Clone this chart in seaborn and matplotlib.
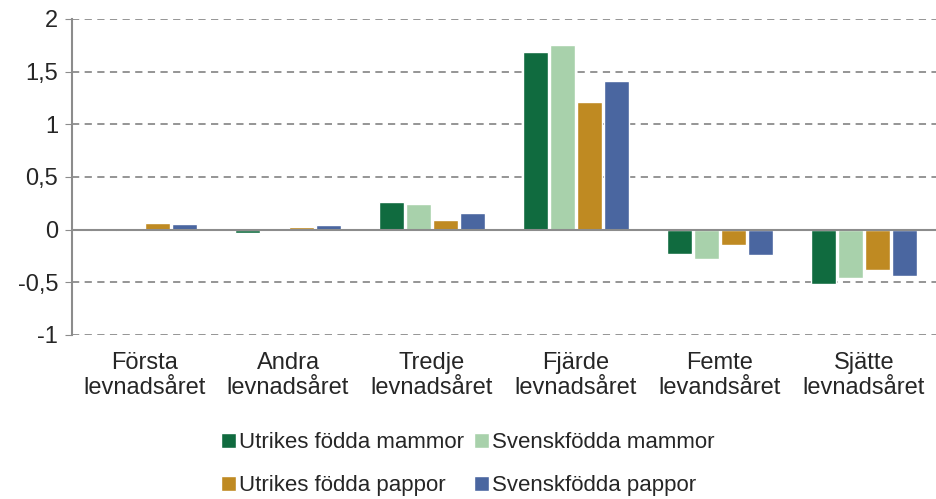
import pandas as pd
import seaborn as sns
import matplotlib.pyplot as plt
from matplotlib.ticker import FuncFormatter
from matplotlib.patches import Patch

# Data
categories = ['Första\nlevnadsåret', 'Andra\nlevnadsåret', 'Tredje\nlevnadsåret',
              'Fjärde\nlevnadsåret', 'Femte\nlevandsåret', 'Sjätte\nlevnadsåret']
series = ['Utrikes födda mammor', 'Svenskfödda mammor',
          'Utrikes födda pappor', 'Svenskfödda pappor']
utrikes_mammor = [-0.015, -0.03, 0.26, 1.69, -0.23, -0.52]
svensk_mammor = [-0.015, 0.005, 0.245, 1.75, -0.28, -0.46]
utrikes_pappor = [0.06, 0.02, 0.09, 1.21, -0.15, -0.38]
svensk_pappor = [0.05, 0.04, 0.16, 1.41, -0.245, -0.44]
colors = ['#106B3F', '#A8D1AB', '#BF8A22', '#4A66A0']

df = pd.DataFrame({
    'kategori': categories * 4,
    'grupp': [s for s in series for _ in categories],
    'varde': utrikes_mammor + svensk_mammor + utrikes_pappor + svensk_pappor,
})

sns.set_style('white')
plt.rcParams['font.family'] = ['Liberation Sans', 'DejaVu Sans']

fig = plt.figure(figsize=(9.36, 4.99), dpi=100)
ax = fig.add_axes([0.077, 0.329, 0.923, 0.633])

sns.barplot(data=df, x='kategori', y='varde', hue='grupp', palette=colors,
            saturation=1, width=0.75, gap=0.1, ax=ax, legend=False, zorder=3)

ax.set_ylim(-1, 2)
ax.set_yticks([-1, -0.5, 0, 0.5, 1, 1.5, 2])
ax.yaxis.set_major_formatter(FuncFormatter(lambda v, p: f'{v:g}'.replace('.', ',')))
for y in [-1, -0.5, 0.5, 1, 1.5, 2]:
    ax.axhline(y, color='#8C8C8C', lw=1.3, ls=(0, (4, 3)), zorder=1)
ax.axhline(0, color='#8C8C8C', lw=1.5, zorder=4)

for s in ['top', 'right', 'bottom']:
    ax.spines[s].set_visible(False)
ax.spines['left'].set_color('#8C8C8C')
ax.spines['left'].set_linewidth(1.5)
ax.tick_params(axis='y', left=True, length=5, color='#8C8C8C', labelsize=17, pad=5)
ax.tick_params(axis='x', bottom=False, labelsize=17, pad=9)
for lbl in ax.get_xticklabels():
    lbl.set_linespacing(1.15)
ax.set_xlabel('')
ax.set_ylabel('')
ax.set_xlim(-0.5, 5.5)

# legend filled row by row
order = [0, 2, 1, 3]
handles = [Patch(facecolor=colors[i]) for i in order]
labels = [series[i] for i in order]
fig.legend(handles, labels, loc='center', bbox_to_anchor=(0.5, 0.07), ncol=2,
           frameon=False, fontsize=16, handlelength=0.65, handleheight=0.65,
           handletextpad=0.15, columnspacing=0.45, labelspacing=1.0,
           borderpad=0)

fig.savefig('out.png', dpi=100)
